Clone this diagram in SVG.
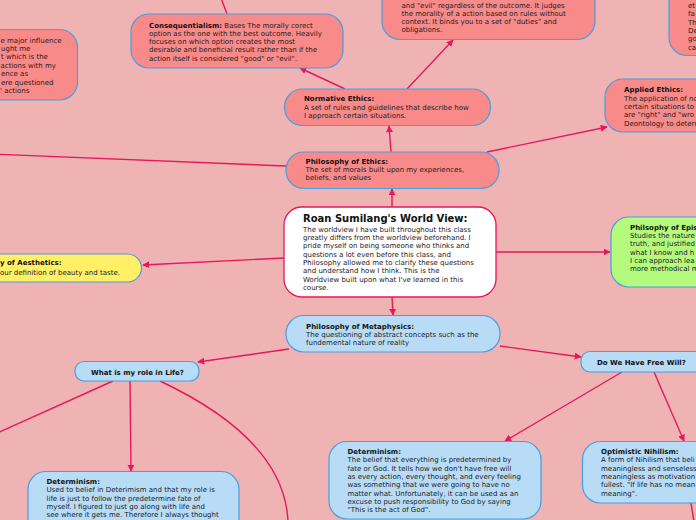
<svg xmlns="http://www.w3.org/2000/svg" width="696" height="520" viewBox="0 0 696 520">
<defs>
<style>
.t{font-family:"DejaVu Sans",Verdana,sans-serif;font-size:7px;fill:#222}
.b{font-weight:bold;fill:#111}
.red{fill:#f88a89;stroke:#4a9ee0;stroke-width:1.2}
.blue{fill:#b8dcf6;stroke:#4a9ee0;stroke-width:1.2}
.yel{fill:#fff066;stroke:#4a9ee0;stroke-width:1.2}
.grn{fill:#b4fa7c;stroke:#4a9ee0;stroke-width:1.2}
.c{fill:none;stroke:#e5195a;stroke-width:1.4}
</style>
<marker id="a" viewBox="0 0 10 10" refX="9" refY="5" markerWidth="7" markerHeight="7" markerUnits="userSpaceOnUse" orient="auto"><path d="M0,0L10,5L0,10z" fill="#e5195a"/></marker>
</defs>
<rect width="696" height="520" fill="#efb3b4"/>
<g id="connectors">
<path class="c" d="M392,207L392,189" marker-end="url(#a)"/>
<path class="c" d="M284,258L143,265" marker-end="url(#a)"/>
<path class="c" d="M496,252L610,252" marker-end="url(#a)"/>
<path class="c" d="M392,297L393,315" marker-end="url(#a)"/>
<path class="c" d="M391,152L389,126" marker-end="url(#a)"/>
<path class="c" d="M487,152L607,127" marker-end="url(#a)"/>
<path class="c" d="M286,166L-10,154"/>
<path class="c" d="M345,89L300,68" marker-end="url(#a)"/>
<path class="c" d="M407,89L453,40" marker-end="url(#a)"/>
<path class="c" d="M227,14L221,-2"/>
<path class="c" d="M289,349L198,362" marker-end="url(#a)"/>
<path class="c" d="M500,346L581,357" marker-end="url(#a)"/>
<path class="c" d="M113,381L-5,434"/>
<path class="c" d="M130,381L131,471" marker-end="url(#a)"/>
<path class="c" d="M160,381Q285,440 288,522"/>
<path class="c" d="M622,372L505,441" marker-end="url(#a)"/>
<path class="c" d="M654,372L684,441" marker-end="url(#a)"/>
<path class="c" d="M691,503L694,522"/>
</g>
<g id="n-topleft">
<rect class="red" x="-30" y="29.5" width="107.5" height="70.5" rx="18"/>
<text class="t" x="0.5" y="42.5">e major influence</text>
<text class="t" x="1" y="51">ught me</text>
<text class="t" x="1" y="59">t which is the</text>
<text class="t" x="0.5" y="67.5">actions with my</text>
<text class="t" x="1" y="76">ence as</text>
<text class="t" x="1" y="84.5">ere questioned</text>
<text class="t" x="0" y="93">' actions</text>
</g>
<g id="n-consequentialism">
<rect class="red" x="131" y="14" width="212" height="54" rx="18"/>
<text class="t" x="149" y="27.5"><tspan class="b">Consequentialism:</tspan> Bases The morally corect</text>
<text class="t" x="149" y="36">option as the one with the best outcome. Heavily</text>
<text class="t" x="149" y="44">focuses on which option creates the most</text>
<text class="t" x="149" y="52">desirable and beneficial result rather than if the</text>
<text class="t" x="149" y="60.5">action itself is considered "good" or "evil".</text>
</g>
<g id="n-deontology">
<rect class="red" x="382" y="-20" width="213" height="59.5" rx="18"/>
<text class="t" x="401.5" y="7.5">and "evil" regardless of the outcome. It judges</text>
<text class="t" x="401.5" y="16">the morality of a action based on rules without</text>
<text class="t" x="401.5" y="24">context. It binds you to a set of "duties" and</text>
<text class="t" x="401.5" y="32">obligations.</text>
</g>
<g id="n-topright">
<rect class="red" x="669" y="-20" width="80" height="75.5" rx="18"/>
<text class="t" x="688" y="7.5">et</text>
<text class="t" x="688" y="16">fa</text>
<text class="t" x="688" y="24.5">Th</text>
<text class="t" x="688" y="32.5">De</text>
<text class="t" x="688" y="41">go</text>
<text class="t" x="688" y="49.5">ca</text>
</g>
<g id="n-applied">
<rect class="red" x="605" y="79" width="130" height="53" rx="18"/>
<text class="t b" x="624" y="91.5">Applied Ethics:</text>
<text class="t" x="624" y="100.5">The application of no</text>
<text class="t" x="624" y="108.5">certain situations to</text>
<text class="t" x="624" y="117">are "right" and "wro</text>
<text class="t" x="624" y="125.5">Deontology to determ</text>
</g>
<g id="n-normative">
<rect class="red" x="284.5" y="89" width="206" height="36.5" rx="18"/>
<text class="t b" x="304" y="100.5">Normative Ethics:</text>
<text class="t" x="304" y="109.5">A set of rules and guidelines that describe how</text>
<text class="t" x="304" y="117.5">I approach certain situations.</text>
</g>
<g id="n-ethics">
<rect class="red" x="286" y="152" width="213" height="36.5" rx="18"/>
<text class="t b" x="305.5" y="163.5">Philosophy of Ethics:</text>
<text class="t" x="305.5" y="172">The set of morals built upon my experiences,</text>
<text class="t" x="305.5" y="180">beliefs, and values</text>
</g>
<g id="n-center">
<rect x="284" y="207" width="212" height="90" rx="18" fill="#fff" stroke="#e5195a" stroke-width="1.3"/>
<text class="t b" x="303" y="221.5" style="font-size:10px">Roan Sumilang's World View:</text>
<text class="t" x="303" y="231.5">The worldview I have built throughout this class</text>
<text class="t" x="303" y="240">greatly differs from the worldview beforehand. I</text>
<text class="t" x="303" y="248">pride myself on being someone who thinks and</text>
<text class="t" x="303" y="256.5">questions a lot even before this class, and</text>
<text class="t" x="303" y="265">Philosophy allowed me to clarify these questions</text>
<text class="t" x="303" y="273">and understand how I think. This is the</text>
<text class="t" x="303" y="281.5">Worldview built upon what I've learned in this</text>
<text class="t" x="303" y="289.5">course.</text>
</g>
<g id="n-aesthetics">
<rect class="yel" x="-30" y="254" width="171.5" height="28" rx="14"/>
<text class="t b" x="0" y="265">y of Aesthetics:</text>
<text class="t" x="0" y="275">our definition of beauty and taste.</text>
</g>
<g id="n-epistemology">
<rect class="grn" x="611" y="217" width="130" height="70" rx="18"/>
<text class="t b" x="630" y="229.5">Philsophy of Epis</text>
<text class="t" x="630" y="238">Studies the nature</text>
<text class="t" x="630" y="246">truth, and justified</text>
<text class="t" x="630" y="254.5">what I know and h</text>
<text class="t" x="630" y="262.5">I can approach lea</text>
<text class="t" x="630" y="271">more methodical m</text>
</g>
<g id="n-metaphysics">
<rect class="blue" x="286" y="315.5" width="214" height="36.5" rx="18"/>
<text class="t b" x="306" y="328.5">Philosophy of Metaphysics:</text>
<text class="t" x="306" y="336.5">The questioning of abstract concepts such as the</text>
<text class="t" x="306" y="345">fundemental nature of reality</text>
</g>
<g id="n-role">
<rect class="blue" x="75" y="361.5" width="124" height="19.5" rx="9"/>
<text class="t b" x="91" y="374.5">What is my role in Life?</text>
</g>
<g id="n-freewill">
<rect class="blue" x="581" y="351.5" width="140" height="20.5" rx="9"/>
<text class="t b" x="597" y="364.5">Do We Have Free Will?</text>
</g>
<g id="n-determinism-left">
<rect class="blue" x="28" y="471.5" width="211" height="80" rx="18"/>
<text class="t b" x="46.5" y="484">Determinism:</text>
<text class="t" x="46.5" y="492">Used to belief in Deterimism and that my role is</text>
<text class="t" x="46.5" y="500.5">life is just to follow the predetermine fate of</text>
<text class="t" x="46.5" y="509">myself. I figured to just go along with life and</text>
<text class="t" x="46.5" y="517">see where it gets me. Therefore I always thought</text>
</g>
<g id="n-determinism-mid">
<rect class="blue" x="329" y="441.5" width="212" height="77.5" rx="18"/>
<text class="t b" x="347.5" y="454">Determinism:</text>
<text class="t" x="347.5" y="462">The belief that everything is predetermined by</text>
<text class="t" x="347.5" y="470.5">fate or God. It tells how we don't have free will</text>
<text class="t" x="347.5" y="479">as every action, every thought, and every feeling</text>
<text class="t" x="347.5" y="487">was something that we were going to have no</text>
<text class="t" x="347.5" y="495.5">matter what. Unfortunately, it can be used as an</text>
<text class="t" x="347.5" y="504">excuse to push responsibility to God by saying</text>
<text class="t" x="347.5" y="512">"This is the act of God".</text>
</g>
<g id="n-nihilism">
<rect class="blue" x="582.5" y="441.5" width="150" height="61.5" rx="18"/>
<text class="t b" x="601" y="454">Optimistic Nihilism:</text>
<text class="t" x="601" y="462">A form of Nihilism that beli</text>
<text class="t" x="601" y="470.5">meaningless and senseless</text>
<text class="t" x="601" y="479">meaningless as motivation</text>
<text class="t" x="601" y="487">fullest. "If life has no mean</text>
<text class="t" x="601" y="495.5">meaning".</text>
</g>
</svg>
